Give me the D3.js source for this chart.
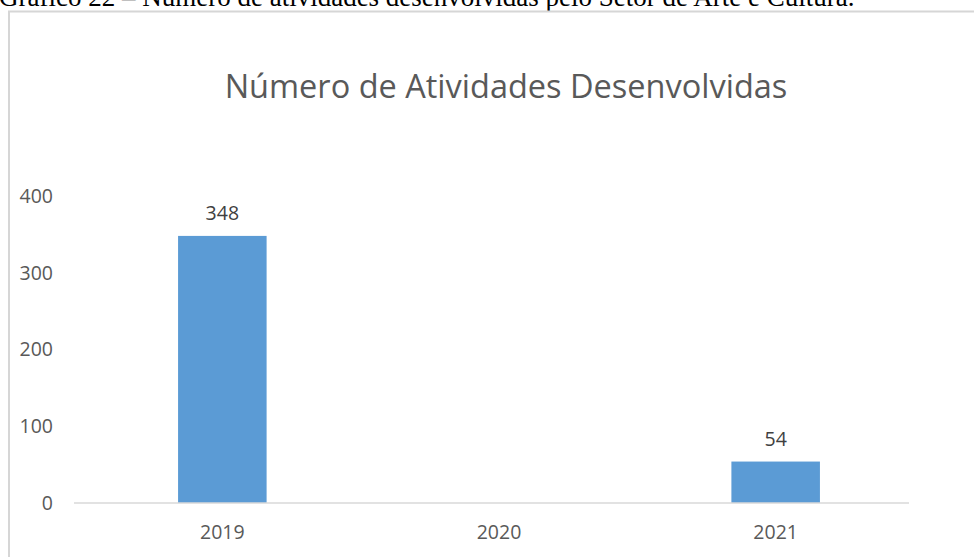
<!DOCTYPE html>
<html>
<head>
<meta charset="utf-8">
<script src="https://cdn.jsdelivr.net/npm/d3@7"></script>
<style>
  body { margin: 0; background: #fff; }
  svg { display: block; }
</style>
</head>
<body>
<div id="chart"></div>
<script>
// chart data
const years = ["2019", "2020", "2021"];
const activities = [348, 0, 54];
const yTicks = [0, 100, 200, 300, 400];

const width = 974;
const height = 557;
const font = "Open Sans, sans-serif";

const svg = d3.select("#chart")
  .append("svg")
  .attr("width", width)
  .attr("height", height);

// caption above the frame (cut off at the top in the source)
svg.append("text")
  .attr("x", -1)
  .attr("y", 6)
  .attr("font-family", "Liberation Serif, Times New Roman, serif")
  .attr("font-size", 27)
  .attr("fill", "#000")
  .text("Gráfico 22 – Número de atividades desenvolvidas pelo Setor de Arte e Cultura.");

// chart frame
svg.append("rect")
  .attr("x", 9)
  .attr("y", 11.5)
  .attr("width", 980)
  .attr("height", 560)
  .attr("fill", "#fff")
  .attr("stroke", "#d6d6d6")
  .attr("stroke-width", 2);

const margin = { left: 84, right: 60, top: 196, bottom: 54 };

const x = d3.scaleBand()
  .domain(years)
  .range([margin.left, width - margin.right])
  .paddingInner(0.68)
  .paddingOuter(0.34);

const y = d3.scaleLinear()
  .domain([0, 400])
  .range([height - margin.bottom, margin.top]);

// title
svg.append("text")
  .attr("x", 506)
  .attr("y", 98)
  .attr("text-anchor", "middle")
  .attr("font-family", font)
  .attr("font-size", 32.5)
  .attr("fill", "#595959")
  .text("Número de Atividades Desenvolvidas");

// y axis labels only
const yAxis = d3.axisLeft(y).tickValues(yTicks).tickSize(0).tickPadding(0);
svg.append("g")
  .attr("transform", "translate(53,0)")
  .call(yAxis)
  .call(g => g.select(".domain").remove())
  .selectAll("text")
  .attr("font-family", font)
  .attr("font-size", 19.5)
  .attr("fill", "#595959");

// bars
svg.append("g")
  .selectAll("rect")
  .data(activities)
  .join("rect")
  .attr("x", (d, i) => x(years[i]))
  .attr("y", d => y(d))
  .attr("width", x.bandwidth())
  .attr("height", d => y(0) - y(d))
  .attr("fill", "#5b9bd5");

// value labels
svg.append("g")
  .selectAll("text")
  .data(activities.map((v, i) => ({ v, year: years[i] })).filter(d => d.v > 0))
  .join("text")
  .attr("x", d => x(d.year) + x.bandwidth() / 2)
  .attr("y", d => y(d.v) - 16)
  .attr("text-anchor", "middle")
  .attr("font-family", font)
  .attr("font-size", 19.5)
  .attr("fill", "#404040")
  .text(d => d.v);

// x axis: baseline + labels
const xAxis = d3.axisBottom(x).tickSize(0).tickPadding(22);
svg.append("g")
  .attr("transform", `translate(0,${y(0)})`)
  .call(xAxis)
  .call(g => g.select(".domain")
    .attr("stroke", "#d9d9d9")
    .attr("stroke-width", 1.5)
    .attr("d", `M74,0H909`))
  .selectAll("text")
  .attr("font-family", font)
  .attr("font-size", 19.5)
  .attr("fill", "#595959");
</script>
</body>
</html>
